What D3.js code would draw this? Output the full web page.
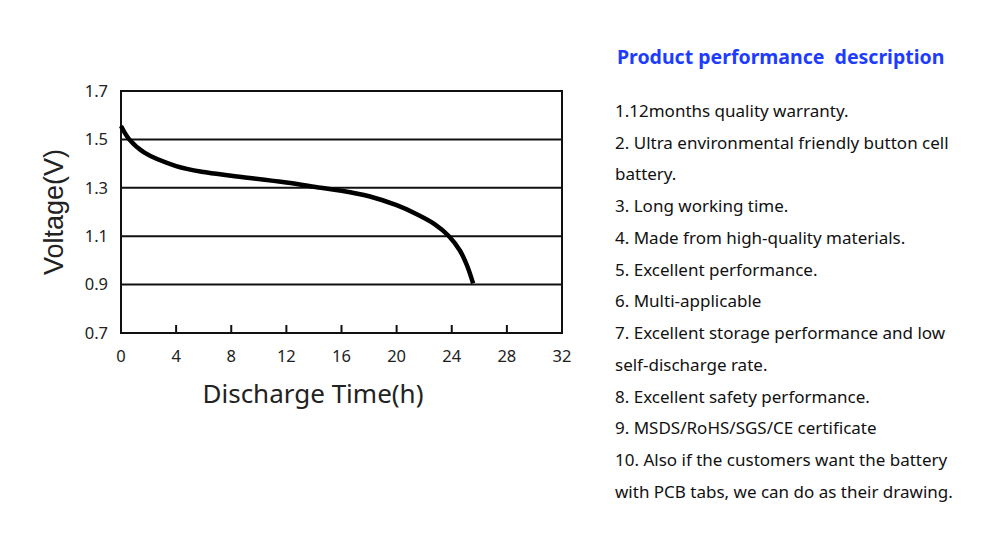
<!DOCTYPE html>
<html>
<head>
<meta charset="utf-8">
<script src="https://cdn.jsdelivr.net/npm/d3@7"></script>
<style>
  body { margin: 0; background: #fff; }
  svg { display: block; }
</style>
</head>
<body>
<svg id="chart" width="1000" height="559"></svg>
<script>
// discharge curve (hours, volts)
const hours = [0, 0.6, 1.7, 4, 6, 8, 12, 14.5, 16, 18, 20, 21.5, 22.7, 23.8, 24.6, 25.1, 25.55];
const volts = [1.555, 1.5, 1.445, 1.39, 1.365, 1.35, 1.322, 1.3, 1.288, 1.265, 1.228, 1.19, 1.152, 1.1, 1.04, 0.98, 0.905];

const xTicks = [0, 4, 8, 12, 16, 20, 24, 28, 32];
const yTicks = [0.7, 0.9, 1.1, 1.3, 1.5, 1.7];
const gridLines = [0.9, 1.1, 1.3, 1.5];

const title = "Product performance  description";
const lines = [
  "1.12months quality warranty.",
  "2. Ultra environmental friendly button cell",
  "battery.",
  "3. Long working time.",
  "4. Made from high-quality materials.",
  "5. Excellent performance.",
  "6. Multi-applicable",
  "7. Excellent storage performance and low",
  "self-discharge rate.",
  "8. Excellent safety performance.",
  "9. MSDS/RoHS/SGS/CE certificate",
  "10. Also if the customers want the battery",
  "with PCB tabs, we can do as their drawing."
];

const svg = d3.select("#chart");
const plotL = 121, plotR = 562, plotT = 91, plotB = 333;

const x = d3.scaleLinear().domain([0, 32]).range([plotL, plotR]);
const y = d3.scaleLinear().domain([0.7, 1.7]).range([plotB, plotT]);

const tickFont = "'Noto Sans', 'DejaVu Sans', sans-serif";

// horizontal grid lines
svg.selectAll(".grid")
  .data(gridLines)
  .enter()
  .append("line")
  .attr("class", "grid")
  .attr("x1", plotL)
  .attr("x2", plotR)
  .attr("y1", d => y(d))
  .attr("y2", d => y(d))
  .attr("stroke", "#111")
  .attr("stroke-width", 2);

// small inner ticks on the bottom edge
svg.selectAll(".xtick")
  .data(xTicks.slice(1, -1))
  .enter()
  .append("line")
  .attr("x1", d => x(d))
  .attr("x2", d => x(d))
  .attr("y1", plotB)
  .attr("y2", plotB - 8)
  .attr("stroke", "#111")
  .attr("stroke-width", 2);

// frame
svg.append("rect")
  .attr("x", plotL)
  .attr("y", plotT)
  .attr("width", plotR - plotL)
  .attr("height", plotB - plotT)
  .attr("fill", "none")
  .attr("stroke", "#111")
  .attr("stroke-width", 2);

// curve
const pts = hours.map((h, i) => [h, volts[i]]);
const line = d3.line()
  .x(d => x(d[0]))
  .y(d => y(d[1]))
  .curve(d3.curveCatmullRom.alpha(0.5));

svg.append("path")
  .datum(pts)
  .attr("d", line)
  .attr("fill", "none")
  .attr("stroke", "#000")
  .attr("stroke-width", 4.5)
  .attr("stroke-linecap", "butt");

// tick labels
svg.selectAll(".ylab")
  .data(yTicks)
  .enter()
  .append("text")
  .attr("x", 108)
  .attr("y", d => y(d))
  .attr("dy", "0.35em")
  .attr("text-anchor", "end")
  .attr("font-family", tickFont)
  .attr("font-size", 16.5)
  .attr("fill", "#222")
  .text(d => d.toFixed(1));

svg.selectAll(".xlab")
  .data(xTicks)
  .enter()
  .append("text")
  .attr("x", d => x(d))
  .attr("y", 356)
  .attr("dy", "0.35em")
  .attr("text-anchor", "middle")
  .attr("font-family", tickFont)
  .attr("font-size", 16.5)
  .attr("fill", "#222")
  .text(d => d);

// axis titles
svg.append("text")
  .attr("x", 313)
  .attr("y", 403)
  .attr("text-anchor", "middle")
  .attr("font-family", "'Noto Sans', sans-serif")
  .attr("font-size", 26)
  .attr("fill", "#222")
  .text("Discharge Time(h)");

svg.append("text")
  .attr("transform", "translate(63,212) rotate(-90)")
  .attr("text-anchor", "middle")
  .attr("font-family", "'Liberation Sans', Arial, sans-serif")
  .attr("font-size", 27)
  .attr("fill", "#222")
  .text("Voltage(V)");

// description block
svg.append("text")
  .attr("x", 617)
  .attr("y", 64)
  .attr("font-family", "'Noto Sans', sans-serif")
  .attr("font-weight", "bold")
  .attr("font-size", 19.5)
  .attr("fill", "#1e3cff")
  .style("white-space", "pre")
  .text(title);

svg.selectAll(".desc")
  .data(lines)
  .enter()
  .append("text")
  .attr("x", 615)
  .attr("y", (d, i) => 111 + i * 31.75)
  .attr("dy", "0.35em")
  .attr("font-family", "'Noto Sans', sans-serif")
  .attr("font-size", 17)
  .attr("fill", "#111")
  .text(d => d);
</script>
</body>
</html>
